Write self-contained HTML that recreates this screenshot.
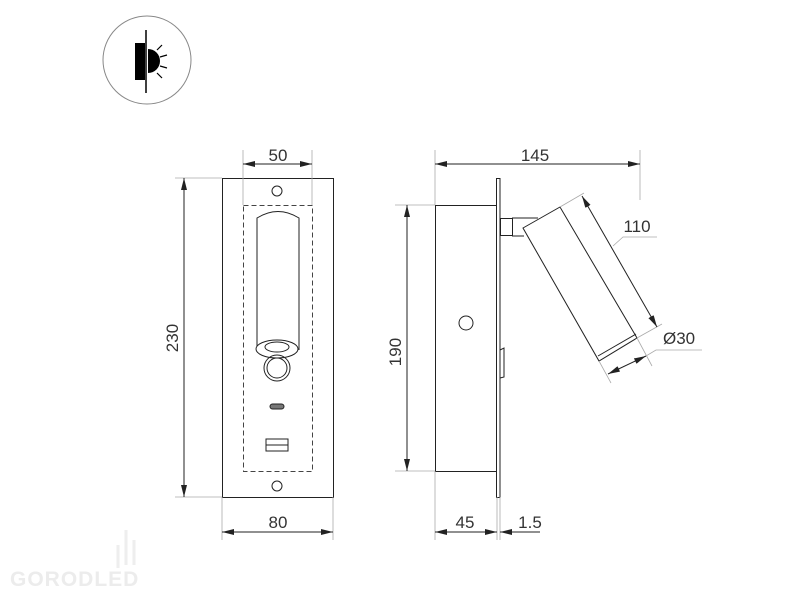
<!DOCTYPE html>
<html><head><meta charset="utf-8"><style>body{margin:0;background:#fff}svg{display:block}text{font-family:"Liberation Sans",sans-serif;fill:#333}</style></head><body>
<svg width="800" height="600" viewBox="0 0 800 600" xmlns="http://www.w3.org/2000/svg">
<defs><marker id="a" viewBox="0 0 12 6" refX="12" refY="3" markerWidth="12" markerHeight="6" orient="auto-start-reverse" markerUnits="userSpaceOnUse"><path d="M0,0L12,3L0,6z" fill="#222"/></marker></defs>
<!-- icon -->
<circle cx="147" cy="60" r="44" fill="none" stroke="#888" stroke-width="1"/>
<rect x="135" y="43" width="10" height="37" fill="#000"/>
<line x1="146" y1="30" x2="146" y2="93" stroke="#000" stroke-width="1.5"/>
<path d="M148,49 A12,12 0 0 1 148,73 z" fill="#000"/>
<g stroke="#000" stroke-width="1.2"><line x1="157" y1="50" x2="162" y2="45"/><line x1="160" y1="57" x2="167" y2="55"/><line x1="160" y1="66" x2="167" y2="68"/><line x1="157" y1="73" x2="162" y2="78"/></g>
<!-- front view -->
<g fill="none" stroke="#222" stroke-width="1">
<rect x="222.5" y="178.5" width="111" height="319"/>
<rect x="243.5" y="205.5" width="69" height="266" stroke-dasharray="5,3" stroke="#444"/>
<circle cx="277" cy="191" r="5"/><circle cx="277" cy="486" r="5"/>
<path d="M257,350 V218 Q278,205 299,218 V350"/>
<ellipse cx="277" cy="349" rx="21" ry="9" fill="#fff"/>
<ellipse cx="277" cy="347" rx="12" ry="5"/>
<circle cx="277" cy="368" r="13"/><circle cx="277" cy="368" r="10"/>
<rect x="270" y="404" width="14" height="5" rx="2.5" fill="#777"/>
<rect x="266" y="439" width="22" height="12"/><line x1="266" y1="445" x2="288" y2="445"/>
</g>
<g stroke="#aaa" stroke-width="0.8">
<line x1="243" y1="150" x2="243" y2="205"/><line x1="312" y1="150" x2="312" y2="205"/>
<line x1="175" y1="178" x2="222" y2="178"/><line x1="175" y1="497" x2="222" y2="497"/>
<line x1="222" y1="497" x2="222" y2="540"/><line x1="333" y1="497" x2="333" y2="540"/>
</g>
<g stroke="#222" stroke-width="1">
<line x1="243" y1="164" x2="312" y2="164" marker-start="url(#a)" marker-end="url(#a)"/>
<line x1="184" y1="178" x2="184" y2="497" marker-start="url(#a)" marker-end="url(#a)"/>
<line x1="222" y1="532" x2="333" y2="532" marker-start="url(#a)" marker-end="url(#a)"/>
</g>
<text x="278" y="161" font-size="17" text-anchor="middle">50</text>
<text x="278" y="528" font-size="17" text-anchor="middle">80</text>
<text transform="translate(178,338) rotate(-90)" font-size="17" text-anchor="middle">230</text>
<!-- side view -->
<g fill="none" stroke="#222" stroke-width="1">
<rect x="435.5" y="205.5" width="61" height="266"/>
<rect x="496.5" y="178.5" width="3.5" height="319"/>
<circle cx="466" cy="323" r="7"/>
<path d="M500,350 L504,348 V377 L500,378" />
<rect x="500.5" y="218.5" width="12" height="17"/>
<path d="M512,218 H538 M512,236 H524"/>
<polygon points="523,228 560,207 637,338 599,361" fill="#fff"/>
<line x1="598" y1="356" x2="636" y2="334"/>
</g>
<g stroke="#aaa" stroke-width="0.8" fill="none">
<line x1="435" y1="150" x2="435" y2="205"/><line x1="640" y1="150" x2="640" y2="200"/>
<line x1="395" y1="205" x2="435" y2="205"/><line x1="395" y1="471" x2="435" y2="471"/>
<line x1="435" y1="471" x2="435" y2="540"/><line x1="497" y1="497" x2="497" y2="540"/><line x1="500" y1="497" x2="500" y2="540"/>
<line x1="560" y1="207" x2="584" y2="193"/><line x1="637" y1="338" x2="662" y2="324"/>
<line x1="599" y1="361" x2="611" y2="383"/><line x1="637" y1="338" x2="652" y2="366"/>
<polyline points="613,246 623,237 657,237"/>
<polyline points="646,356 656,350 702,350"/>
</g>
<g stroke="#222" stroke-width="1">
<line x1="435" y1="164" x2="640" y2="164" marker-start="url(#a)" marker-end="url(#a)"/>
<line x1="407" y1="205" x2="407" y2="471" marker-start="url(#a)" marker-end="url(#a)"/>
<line x1="435" y1="532" x2="497" y2="532" marker-start="url(#a)" marker-end="url(#a)"/>
<line x1="500" y1="532" x2="540" y2="532" marker-start="url(#a)"/>
<line x1="582" y1="196" x2="657" y2="327" marker-start="url(#a)" marker-end="url(#a)"/>
<line x1="608" y1="374" x2="646" y2="356" marker-start="url(#a)" marker-end="url(#a)"/>
</g>
<text x="535" y="161" font-size="17" text-anchor="middle">145</text>
<text x="637" y="232" font-size="17" text-anchor="middle">110</text>
<text x="663" y="344" font-size="17">Ø30</text>
<text x="465" y="528" font-size="17" text-anchor="middle">45</text>
<text x="530" y="528" font-size="17" text-anchor="middle">1.5</text>
<text transform="translate(401,352) rotate(-90)" font-size="17" text-anchor="middle">190</text>
<!-- logo -->
<text x="10" y="586" font-size="21" font-weight="bold" letter-spacing="1" style="fill:#ececec">GORODLED</text>
<g stroke="#eee" stroke-width="3" fill="none"><line x1="118" y1="545" x2="118" y2="568"/><line x1="126" y1="530" x2="126" y2="565"/><line x1="134" y1="540" x2="134" y2="565"/></g>
</svg>
</body></html>
